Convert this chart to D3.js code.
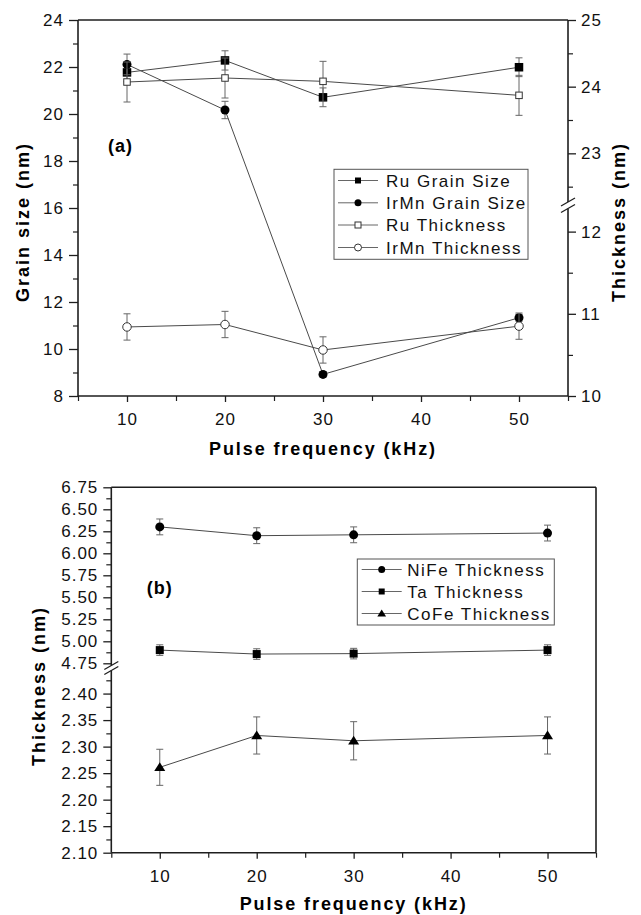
<!DOCTYPE html>
<html><head><meta charset="utf-8">
<script src="https://cdn.jsdelivr.net/npm/d3@7"></script>
<style>
body{margin:0;background:#fff;}
svg{display:block;font-family:"Liberation Sans",Arial,sans-serif;}
</style></head><body>
<svg id="c" width="641" height="915"></svg>
<script>
// ---------- data ----------
const freq = [10, 20, 30, 50];
// panel (a): grain size on left axis, thickness on right (broken) axis
const ruGrain = [21.77, 22.28, 20.71, 21.99];
const ruGrainErr = [0.40, 0.41, 0.40, 0.40];
const irmnGrain = [22.11, 20.17, 8.92, 11.33];
const irmnGrainErr = [0.44, 0.37, 0.12, 0.15];
const ruThick = [24.07, 24.13, 24.08, 23.87];
const ruThickErr = [0.30, 0.30, 0.30, 0.30];
const irmnThick = [10.84, 10.87, 10.56, 10.85];
const irmnThickErr = [0.16, 0.16, 0.16, 0.16];
// panel (b): thickness on broken left axis
const nifeThick = [6.30, 6.20, 6.21, 6.23];
const nifeErr = [0.09, 0.09, 0.09, 0.09];
const taThick = [4.90, 4.855, 4.86, 4.90];
const taErr = [0.06, 0.06, 0.06, 0.06];
const cofeThick = [2.261, 2.321, 2.311, 2.321];
const cofeErr = [0.034, 0.035, 0.036, 0.035];

const xTicks = [10, 20, 30, 40, 50];
const xMinor = [5, 15, 25, 35, 45, 55];
const grainTicks = [8, 10, 12, 14, 16, 18, 20, 22, 24];
const grainMinor = [9, 11, 13, 15, 17, 19, 21, 23];
const rightUpperTicks = [23, 24, 25];
const rightUpperMinor = [22.5, 23.5, 24.5];
const rightLowerTicks = [10, 11, 12];
const rightLowerMinor = [10.5, 11.5];
const bUpperTicks = ["4.75","5.00","5.25","5.50","5.75","6.00","6.25","6.50","6.75"];
const bUpperMinor = [4.875,5.125,5.375,5.625,5.875,6.125,6.375,6.625];
const bLowerTicks = ["2.10","2.15","2.20","2.25","2.30","2.35","2.40"];
const bLowerMinor = [2.125,2.175,2.225,2.275,2.325,2.375,2.425];

const legendA = ["Ru Grain Size", "IrMn Grain Size", "Ru Thickness", "IrMn Thickness"];
const legendB = ["NiFe Thickness", "Ta Thickness", "CoFe Thickness"];

// ---------- drawing ----------
const svg = d3.select("#c");
const AX = "#1e1e1e", LN = "#4a4a4a", ER = "#666";
const tickFont = {"font-size":"17px","letter-spacing":"1px","fill":"#111"};

function styleText(sel, o){ for(const k in o) sel.style(k,o[k]); return sel; }

function drawAxis(g, axisFn, scale, majors, minors, majLen, minLen, fmt, labels){
  const a = axisFn(scale).tickValues(majors).tickSize(majLen).tickSizeOuter(0).tickPadding(5)
    .tickFormat(labels ? fmt : "");
  const ga = g.append("g").call(a);
  ga.select(".domain").remove();
  ga.selectAll(".tick line").attr("stroke", AX).attr("stroke-width", 1.3);
  ga.selectAll(".tick text").each(function(){ styleText(d3.select(this), tickFont); })
    .attr("font-family", null);
  if (minors && minors.length){
    const m = axisFn(scale).tickValues(minors).tickSize(minLen).tickSizeOuter(0).tickFormat("");
    const gm = g.append("g").call(m);
    gm.select(".domain").remove();
    gm.selectAll(".tick line").attr("stroke", AX).attr("stroke-width", 1.2);
  }
  return ga;
}
function line(g,x1,y1,x2,y2,w){ g.append("line").attr("x1",x1).attr("y1",y1).attr("x2",x2).attr("y2",y2)
  .attr("stroke",AX).attr("stroke-width",w||1.6); }

function marker(g, type, cx, cy, s){
  if (type==="fsq") g.append("rect").attr("x",cx-s/2).attr("y",cy-s/2).attr("width",s).attr("height",s).attr("fill","#000");
  else if (type==="osq") g.append("rect").attr("x",cx-s/2).attr("y",cy-s/2).attr("width",s).attr("height",s).attr("fill","#fff").attr("stroke","#333").attr("stroke-width",1);
  else if (type==="fci") g.append("circle").attr("cx",cx).attr("cy",cy).attr("r",s/2).attr("fill","#000");
  else if (type==="oci") g.append("circle").attr("cx",cx).attr("cy",cy).attr("r",s/2).attr("fill","#fff").attr("stroke","#333").attr("stroke-width",1);
  else if (type==="tri") g.append("path").attr("d",`M${cx},${cy-s*0.5}L${cx+s*0.55},${cy+s*0.38}L${cx-s*0.55},${cy+s*0.38}Z`).attr("fill","#000");
}

function series(g, xs, ys, vals, errs, type, size){
  const pts = vals.map((v,i)=>({f:freq[i], v, e:errs[i]}));
  g.append("path").datum(pts).attr("fill","none").attr("stroke",LN).attr("stroke-width",1)
    .attr("d", d3.line().x(d=>xs(d.f)).y(d=>ys(d.v)));
  pts.forEach(d=>{
    const cx = xs(d.f), y1 = ys(d.v-d.e), y2 = ys(d.v+d.e);
    g.append("line").attr("x1",cx).attr("x2",cx).attr("y1",y1).attr("y2",y2).attr("stroke",ER).attr("stroke-width",1);
    [y1,y2].forEach(yy=> g.append("line").attr("x1",cx-3.5).attr("x2",cx+3.5).attr("y1",yy).attr("y2",yy).attr("stroke",ER).attr("stroke-width",1));
  });
  pts.forEach(d=> marker(g, type, xs(d.f), ys(d.v), size));
}

function breakMarks(g, x, yTop, yBot){
  // white gap then two slashes
  g.append("line").attr("x1",x).attr("x2",x).attr("y1",yTop).attr("y2",yBot).attr("stroke","#fff").attr("stroke-width",4);
  [yTop, yBot].forEach(y=> g.append("line").attr("x1",x-7).attr("y1",y+4).attr("x2",x+7).attr("y2",y-4)
    .attr("stroke",AX).attr("stroke-width",1.2));
}

function legend(g, x, y, w, h, rows, items, lineX1, lineX2, textX){
  g.append("rect").attr("x",x).attr("y",y).attr("width",w).attr("height",h).attr("fill","#fff").attr("stroke","#555").attr("stroke-width",1);
  items.forEach((it,i)=>{
    const yy = rows[i];
    g.append("line").attr("x1",lineX1).attr("x2",lineX2).attr("y1",yy).attr("y2",yy).attr("stroke","#666").attr("stroke-width",1);
    marker(g, it.type, (lineX1+lineX2)/2, yy, it.size);
    g.append("text").attr("x",textX).attr("y",yy).attr("dy","0.36em").text(it.label)
      .style("font-size","17px").style("letter-spacing","1.5px").style("fill","#111");
  });
}

// ===== Panel (a) =====
const A = {l:78, r:568, t:20, b:396};
const xa = d3.scaleLinear().domain([5,55]).range([A.l, A.r]);
const yGrain = d3.scaleLinear().domain([8,24]).range([A.b, A.t]);
const yRU = d3.scaleLinear().domain([22.27,25]).range([202, A.t]);
const yRL = d3.scaleLinear().domain([10,12.28]).range([A.b, 208.6]);

const ga = svg.append("g");
// frame lines
line(ga, A.l, A.t, A.r, A.t);
line(ga, A.l, A.t, A.l, A.b);
line(ga, A.l, A.b, A.r, A.b);
line(ga, A.r, A.t, A.r, A.b);
drawAxis(ga.append("g").attr("transform",`translate(${A.l},0)`), d3.axisLeft, yGrain, grainTicks, grainMinor, 9, 5, d3.format("d"), true);
drawAxis(ga.append("g").attr("transform",`translate(0,${A.b})`), d3.axisBottom, xa, xTicks, xMinor, 6, 5, d3.format("d"), true)
  .selectAll(".tick text").attr("dy","1.05em");
drawAxis(ga.append("g").attr("transform",`translate(${A.r},0)`), d3.axisRight, yRU, rightUpperTicks, rightUpperMinor, 8, 5, d3.format("d"), true);
drawAxis(ga.append("g").attr("transform",`translate(${A.r},0)`), d3.axisRight, yRL, rightLowerTicks, rightLowerMinor, 8, 5, d3.format("d"), true);
breakMarks(ga, A.r, 202, 208.6);

series(ga, xa, yGrain, ruGrain, ruGrainErr, "fsq", 8.5);
series(ga, xa, yGrain, irmnGrain, irmnGrainErr, "fci", 9);
series(ga, xa, yRU, ruThick, ruThickErr, "osq", 6.5);
series(ga, xa, yRL, irmnThick, irmnThickErr, "oci", 8.5);

legend(ga, 334, 169.3, 194, 90, [180.5,202.8,225,247.5],
  [{type:"fsq",size:6,label:legendA[0]},{type:"fci",size:7,label:legendA[1]},
   {type:"osq",size:6,label:legendA[2]},{type:"oci",size:7,label:legendA[3]}], 338, 378, 386);

ga.append("text").attr("x",108).attr("y",152).text("(a)").style("font-size","18px").style("font-weight","bold").style("letter-spacing","1px");
ga.append("text").attr("transform","translate(29,222) rotate(-90)").attr("text-anchor","middle").text("Grain size (nm)")
  .style("font-size","18px").style("font-weight","bold").style("letter-spacing","2px");
ga.append("text").attr("transform","translate(625,222) rotate(-90)").attr("text-anchor","middle").text("Thickness (nm)")
  .style("font-size","18px").style("font-weight","bold").style("letter-spacing","2px");
ga.append("text").attr("x",(A.l+A.r)/2).attr("y",455).attr("text-anchor","middle").text("Pulse frequency (kHz)")
  .style("font-size","18px").style("font-weight","bold").style("letter-spacing","1.9px");

// ===== Panel (b) =====
const B = {l:111.3, r:596, t:487.3, b:852.7};
const xb = d3.scaleLinear().domain([5,55]).range([B.l, B.r]);
const yBU = d3.scaleLinear().domain([4.725,6.75]).range([665.5, B.t]);
const yBL = d3.scaleLinear().domain([2.10,2.4435]).range([B.b, 670.5]);

const gb = svg.append("g");
line(gb, B.l, B.t, B.r, B.t);
line(gb, B.l, B.t, B.l, B.b);
line(gb, B.l, B.b, B.r, B.b);
line(gb, B.r, B.t, B.r, B.b);
drawAxis(gb.append("g").attr("transform",`translate(${B.l},0)`), d3.axisLeft, yBU, bUpperTicks.map(Number), bUpperMinor, 8, 5, d3.format(".2f"), true);
drawAxis(gb.append("g").attr("transform",`translate(${B.l},0)`), d3.axisLeft, yBL, bLowerTicks.map(Number), bLowerMinor.filter(v=>v<2.44), 8, 5, d3.format(".2f"), true);
drawAxis(gb.append("g").attr("transform",`translate(0,${B.b})`), d3.axisBottom, xb, xTicks, xMinor, 6, 5, d3.format("d"), true)
  .selectAll(".tick text").attr("dy","1.05em");
breakMarks(gb, B.l, 665.5, 670.5);

series(gb, xb, yBU, nifeThick, nifeErr, "fci", 9);
series(gb, xb, yBU, taThick, taErr, "fsq", 8);
series(gb, xb, yBL, cofeThick, cofeErr, "tri", 10);

legend(gb, 357.3, 559, 197, 66, [569.5,591.5,613.5],
  [{type:"fci",size:7,label:legendB[0]},{type:"fsq",size:6,label:legendB[1]},{type:"tri",size:8,label:legendB[2]}], 361.7, 401.7, 407.3);

gb.append("text").attr("x",146.7).attr("y",594).text("(b)").style("font-size","18px").style("font-weight","bold").style("letter-spacing","1px");
gb.append("text").attr("transform","translate(45,686) rotate(-90)").attr("text-anchor","middle").text("Thickness (nm)")
  .style("font-size","18px").style("font-weight","bold").style("letter-spacing","2px");
gb.append("text").attr("x",(B.l+B.r)/2).attr("y",910).attr("text-anchor","middle").text("Pulse frequency (kHz)")
  .style("font-size","18px").style("font-weight","bold").style("letter-spacing","1.9px");
</script>
</body></html>
